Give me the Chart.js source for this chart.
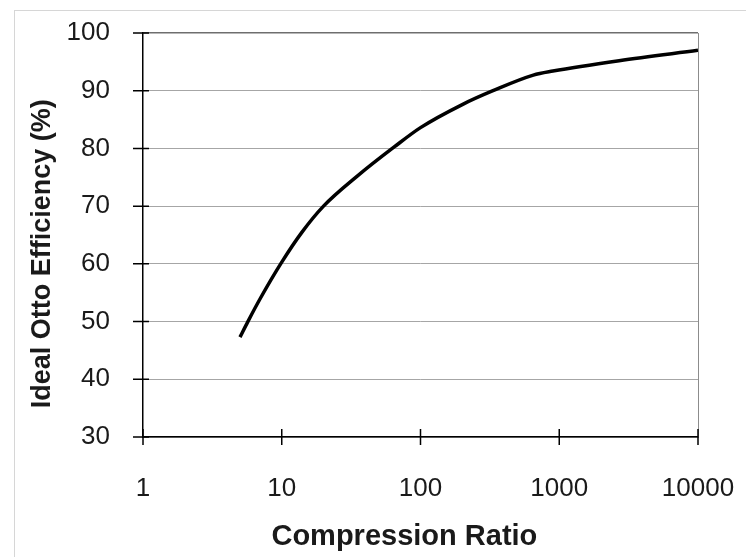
<!DOCTYPE html>
<html>
<head>
<meta charset="utf-8">
<title>Ideal Otto Efficiency</title>
<script src="https://cdn.jsdelivr.net/npm/chart.js@4/dist/chart.umd.min.js"></script>
<style>
    body { margin: 0; background: #fff; overflow: hidden; }
    #frame { position: absolute; left: 14px; top: 10px; width: 760px; height: 600px; border: 1px solid #d6d6d6; }
    #wrap { position: absolute; left: 0; top: 0; width: 746px; height: 557px; }
</style>
</head>
<body>
<div id="frame"></div>
<div id="wrap"><canvas id="myChart" width="746" height="557"></canvas></div>
<script>
// values
const ratios = [5, 5.7, 7, 10, 14, 20, 35, 65, 100, 200, 333, 650, 900, 2700, 10000];
const efficiency = [47.3, 50, 54, 60.3, 65.5, 70, 75.2, 80.3, 83.6, 87.6, 90, 92.7, 93.4, 95.2, 97];
const xTicks = [1, 10, 100, 1000, 10000];
const yTicks = [30, 40, 50, 60, 70, 80, 90, 100];

const FONT = "'Liberation Sans', Arial, sans-serif";
const NB = '\u00a0';

// tick marks that cross the axis line, plus the grey right edge of the plot
const crossTicks = {
    id: 'crossTicks',
    afterDraw(chart) {
        const ctx = chart.ctx;
        const area = chart.chartArea;
        const xs = chart.scales.x;
        const ys = chart.scales.y;
        ctx.save();
        ctx.strokeStyle = '#8c8c8c';
        ctx.lineWidth = 1;
        ctx.beginPath();
        ctx.moveTo(area.right + 0.5, area.top);
        ctx.lineTo(area.right + 0.5, area.bottom);
        ctx.stroke();
        ctx.strokeStyle = '#000';
        ctx.lineWidth = 1.5;
        ctx.beginPath();
        xs.ticks.forEach(t => {
            const px = xs.getPixelForValue(t.value);
            ctx.moveTo(px, area.bottom - 8);
            ctx.lineTo(px, area.bottom + 8);
        });
        ys.ticks.forEach(t => {
            const py = ys.getPixelForValue(t.value);
            ctx.moveTo(area.left - 10, py);
            ctx.lineTo(area.left + 6, py);
        });
        ctx.stroke();
        ctx.restore();
    }
};

const ctx = document.getElementById('myChart').getContext('2d');
const chart = new Chart(ctx, {
    type: 'scatter',
    data: {
        datasets: [{
            label: 'Ideal Otto Efficiency',
            data: ratios.map((r, i) => ({ x: r, y: efficiency[i] })),
            showLine: true,
            borderColor: '#000',
            borderWidth: 3.5,
            pointRadius: 0,
            cubicInterpolationMode: 'monotone',
            fill: false
        }]
    },
    options: {
        responsive: false,
        animation: false,
        devicePixelRatio: 1,
        layout: { padding: { left: 0, top: 33, right: 48, bottom: 0 } },
        plugins: {
            legend: { display: false },
            tooltip: { enabled: false }
        },
        scales: {
            x: {
                type: 'logarithmic',
                min: 1,
                max: 10000,
                afterBuildTicks: scale => { scale.ticks = xTicks.map(v => ({ value: v })); },
                afterFit: scale => {
                    scale.height = 120;
                    scale.paddingLeft = 0;
                    scale.paddingRight = 0;
                },
                grid: { display: false },
                border: { display: true, color: '#000', width: 1.5 },
                ticks: {
                    padding: 28,
                    color: '#1a1a1a',
                    font: { family: FONT, size: 26 },
                    maxRotation: 0,
                    callback: v => String(v)
                },
                title: {
                    display: true,
                    text: 'Compression Ratio' + NB.repeat(4),
                    color: '#1a1a1a',
                    font: { family: FONT, size: 29, weight: 'bold' },
                    padding: { top: 0, bottom: 3 }
                }
            },
            y: {
                min: 30,
                max: 100,
                afterBuildTicks: scale => { scale.ticks = yTicks.map(v => ({ value: v })); },
                afterFit: scale => {
                    scale.width = 143;
                    scale.paddingTop = 0;
                    scale.paddingBottom = 0;
                },
                grid: {
                    drawTicks: false,
                    color: c => c.tick && c.tick.value === 100 ? '#6e6e6e' : '#a6a6a6',
                    lineWidth: c => c.tick && c.tick.value === 100 ? 1.5 : 1
                },
                border: { display: true, color: '#000', width: 1.5 },
                ticks: {
                    padding: 33,
                    color: '#1a1a1a',
                    font: { family: FONT, size: 26 }
                },
                title: {
                    display: true,
                    text: 'Ideal Otto Efficiency (%)' + NB.repeat(5),
                    color: '#1a1a1a',
                    font: { family: FONT, size: 27, weight: 'bold' },
                    padding: { top: 26, bottom: 0 }
                }
            }
        }
    },
    plugins: [crossTicks]
});
</script>
</body>
</html>
